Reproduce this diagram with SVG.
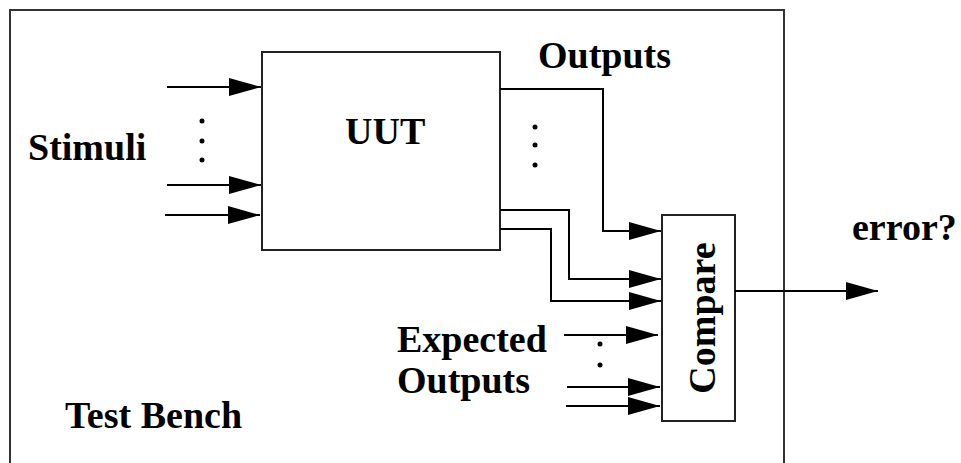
<svg xmlns="http://www.w3.org/2000/svg" width="961" height="463" viewBox="0 0 961 463">
<style>
.t{font-family:"Liberation Serif","Times New Roman",serif;font-weight:bold;font-size:38px;fill:#000}
.box{fill:#fff;stroke:#222;stroke-width:2}
.c{fill:none;stroke:#000;stroke-width:2}
.dot{fill:#000}
</style>
<defs>
<marker id="ah" markerUnits="userSpaceOnUse" markerWidth="32" markerHeight="18" refX="32" refY="9" orient="auto">
<path d="M0,0 L32,9 L0,18 z" fill="#000"/>
</marker>
</defs>
<rect width="961" height="463" fill="#fff"/>
<g id="testbench">
<rect x="10" y="10" width="774" height="480" fill="none" stroke="#333" stroke-width="2"/>
<text class="t" x="65" y="428">Test Bench</text>
</g>
<g id="uut">
<rect class="box" x="262" y="52" width="238" height="198"/>
<text class="t" x="345" y="144">UUT</text>
</g>
<g id="compare">
<rect class="box" x="662" y="215" width="73" height="206"/>
<text class="t" transform="translate(715,318) rotate(-90)" text-anchor="middle">Compare</text>
</g>
<g id="labels">
<text class="t" x="28" y="160">Stimuli</text>
<text class="t" x="538" y="68">Outputs</text>
<text class="t" x="397" y="352">Expected</text>
<text class="t" x="397" y="393">Outputs</text>
<text class="t" x="852" y="240" font-size="37">error?</text>
<circle class="dot" cx="202" cy="121" r="2.5"/>
<circle class="dot" cx="202" cy="141" r="2.5"/>
<circle class="dot" cx="202" cy="160" r="2.5"/>
<circle class="dot" cx="535" cy="127" r="2.5"/>
<circle class="dot" cx="535" cy="145" r="2.5"/>
<circle class="dot" cx="535" cy="165" r="2.5"/>
<circle class="dot" cx="600" cy="344" r="2.5"/>
<circle class="dot" cx="600" cy="365" r="2.5"/>
</g>
<g id="connectors">
<line class="c" x1="167" y1="87" x2="261" y2="87" marker-end="url(#ah)"/>
<line class="c" x1="167" y1="185" x2="261" y2="185" marker-end="url(#ah)"/>
<line class="c" x1="165" y1="215" x2="260" y2="215" marker-end="url(#ah)"/>
<polyline class="c" points="500,89 603,89 603,231 661,231" marker-end="url(#ah)"/>
<polyline class="c" points="500,210 569,210 569,279 661,279" marker-end="url(#ah)"/>
<polyline class="c" points="500,229 551,229 551,301 661,301" marker-end="url(#ah)"/>
<line class="c" x1="564" y1="335" x2="658" y2="335" marker-end="url(#ah)"/>
<line class="c" x1="567" y1="387" x2="660" y2="387" marker-end="url(#ah)"/>
<line class="c" x1="566" y1="406" x2="660" y2="406" marker-end="url(#ah)"/>
<line class="c" x1="735" y1="291" x2="878" y2="291" marker-end="url(#ah)"/>
</g>
</svg>
